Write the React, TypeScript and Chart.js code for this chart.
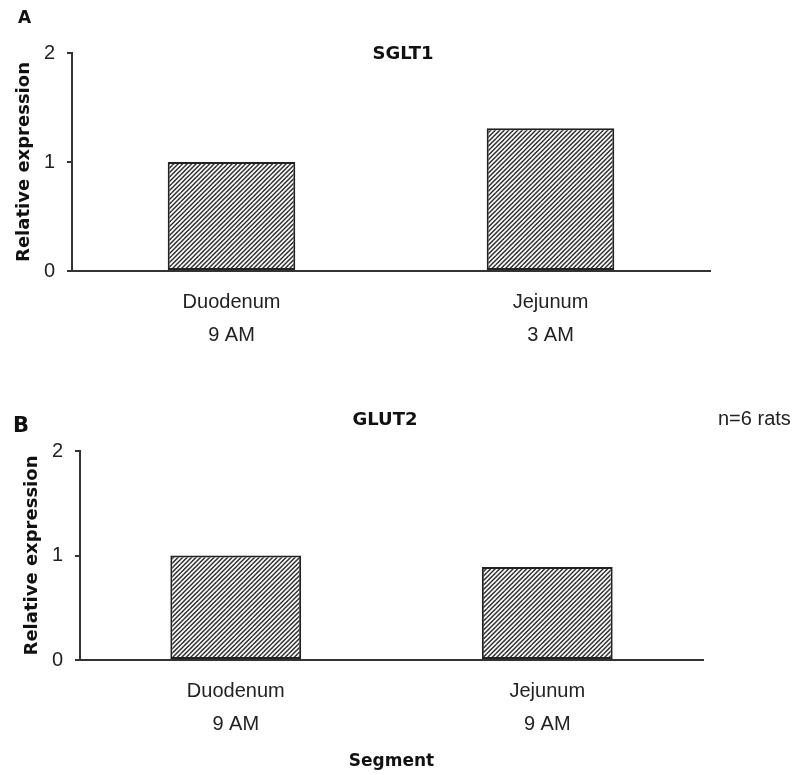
import React, { useEffect, useRef } from "react";
import { Chart, registerables } from "chart.js";

Chart.register(...registerables);

// ---- data ----
const categoriesA: string[][] = [["Duodenum", "9 AM"], ["Jejunum", "3 AM"]];
const valuesA: number[] = [1.0, 1.31];
const categoriesB: string[][] = [["Duodenum", "9 AM"], ["Jejunum", "9 AM"]];
const valuesB: number[] = [1.0, 0.89];
const yMin = 0;
const yMax = 2;
const yStep = 1;
const yTitle = "Relative expression";
const xTitle = "Segment";
const panelLabels = ["A", "B"];
const panelTitles = ["SGLT1", "GLUT2"];
const noteText = "n=6 rats";

const BOLD = "'DejaVu Sans', sans-serif";
const REG = "'Liberation Sans', Arial, sans-serif";

function makeHatch(): CanvasPattern | string {
  const c = document.createElement("canvas");
  const s = 9;
  c.width = s;
  c.height = s;
  const g = c.getContext("2d");
  if (!g) return "#888";
  g.fillStyle = "#ffffff";
  g.fillRect(0, 0, s, s);
  g.strokeStyle = "#2e2e2e";
  g.lineWidth = 1.5;
  for (const k of [-9, -4.5, 0, 4.5, 9, 13.5, 18, 22.5, 27]) {
    g.beginPath();
    g.moveTo(k - 20, 20);
    g.lineTo(k + 20, -20);
    g.stroke();
  }
  const p = g.createPattern(c, "repeat");
  return p || "#888";
}

const textPlugin = {
  id: "panelText",
  afterDraw(chart: any, _args: any, opts: any) {
    const ctx = chart.ctx;
    for (const t of opts.items || []) {
      ctx.save();
      ctx.font = t.font;
      ctx.fillStyle = t.color || "#111";
      ctx.textAlign = t.align || "center";
      ctx.textBaseline = "middle";
      ctx.fillText(t.text, t.x, t.y);
      ctx.restore();
    }
  },
};

interface PanelCfg {
  labels: string[][];
  values: number[];
  barPct: number;
  padTop: number;
  padRight: number;
  yWidth: number;
  xHeight: number;
  yTitlePad: number;
  showXTitle: boolean;
  items: any[];
}

function buildChart(canvas: HTMLCanvasElement, cfg: PanelCfg) {
  const hatch = makeHatch();
  return new Chart(canvas, {
    type: "bar",
    data: {
      labels: cfg.labels as any,
      datasets: [
        {
          data: cfg.values,
          backgroundColor: hatch as any,
          borderColor: "#222",
          borderWidth: 2,
          borderSkipped: false,
          barPercentage: cfg.barPct,
          categoryPercentage: 1,
        },
      ],
    },
    options: {
      responsive: false,
      animation: false,
      devicePixelRatio: 1,
      layout: { padding: { left: 0, top: cfg.padTop, right: cfg.padRight, bottom: 0 } },
      plugins: {
        legend: { display: false },
        tooltip: { enabled: false },
        panelText: { items: cfg.items },
      } as any,
      scales: {
        x: {
          grid: { display: false, drawTicks: false },
          border: { display: true, color: "#333", width: 2 },
          ticks: {
            color: "#222",
            font: { family: REG, size: 20, lineHeight: 1.65 },
            padding: 15,
            maxRotation: 0,
            autoSkip: false,
          },
          title: {
            display: cfg.showXTitle,
            text: xTitle,
            color: "#111",
            font: { family: BOLD, size: 17, weight: "bold" },
            padding: { top: 0, bottom: 3 },
          },
          afterFit: (s: any) => {
            s.height = cfg.xHeight;
          },
        },
        y: {
          min: yMin,
          max: yMax,
          ticks: {
            stepSize: yStep,
            color: "#222",
            font: { family: REG, size: 20 },
            padding: 12,
          },
          grid: {
            drawOnChartArea: false,
            drawTicks: true,
            tickLength: 5,
            color: "#333",
            lineWidth: 2,
          },
          border: { display: true, color: "#333", width: 2 },
          title: {
            display: true,
            text: yTitle,
            color: "#111",
            font: { family: BOLD, size: 18, weight: "bold" },
            padding: { top: cfg.yTitlePad, bottom: 0 },
          },
          afterFit: (s: any) => {
            s.width = cfg.yWidth;
          },
        },
      },
    } as any,
    plugins: [textPlugin as any],
  });
}

export default function App() {
  const refA = useRef<HTMLCanvasElement | null>(null);
  const refB = useRef<HTMLCanvasElement | null>(null);

  useEffect(() => {
    if (!refA.current || !refB.current) return;
    const chartA = buildChart(refA.current, {
      labels: categoriesA,
      values: valuesA,
      barPct: 0.4,
      padTop: 53,
      padRight: 84,
      yWidth: 72,
      xHeight: 109,
      yTitlePad: 14,
      showXTitle: false,
      items: [
        { text: panelLabels[0], x: 18, y: 19, align: "left", font: `bold 17px ${BOLD}` },
        { text: panelTitles[0], x: 403, y: 54, align: "center", font: `bold 18px ${BOLD}` },
      ],
    });
    const chartB = buildChart(refB.current, {
      labels: categoriesB,
      values: valuesB,
      barPct: 0.42,
      padTop: 71,
      padRight: 91,
      yWidth: 80,
      xHeight: 115,
      yTitlePad: 22,
      showXTitle: true,
      items: [
        { text: panelLabels[1], x: 13, y: 47, align: "left", font: `bold 21px ${BOLD}` },
        { text: panelTitles[1], x: 385, y: 40, align: "center", font: `bold 18px ${BOLD}` },
        { text: noteText, x: 718, y: 39, align: "left", font: `20px ${REG}`, color: "#222" },
      ],
    });
    return () => {
      chartA.destroy();
      chartB.destroy();
    };
  }, []);

  return (
    <div style={{ position: "absolute", left: 0, top: 0, width: 794, height: 775, background: "#fff" }}>
      <canvas
        ref={refA}
        width={794}
        height={380}
        style={{ position: "absolute", left: 0, top: 0, width: 794, height: 380, display: "block" }}
      />
      <canvas
        ref={refB}
        width={794}
        height={395}
        style={{ position: "absolute", left: 0, top: 380, width: 794, height: 395, display: "block" }}
      />
    </div>
  );
}
